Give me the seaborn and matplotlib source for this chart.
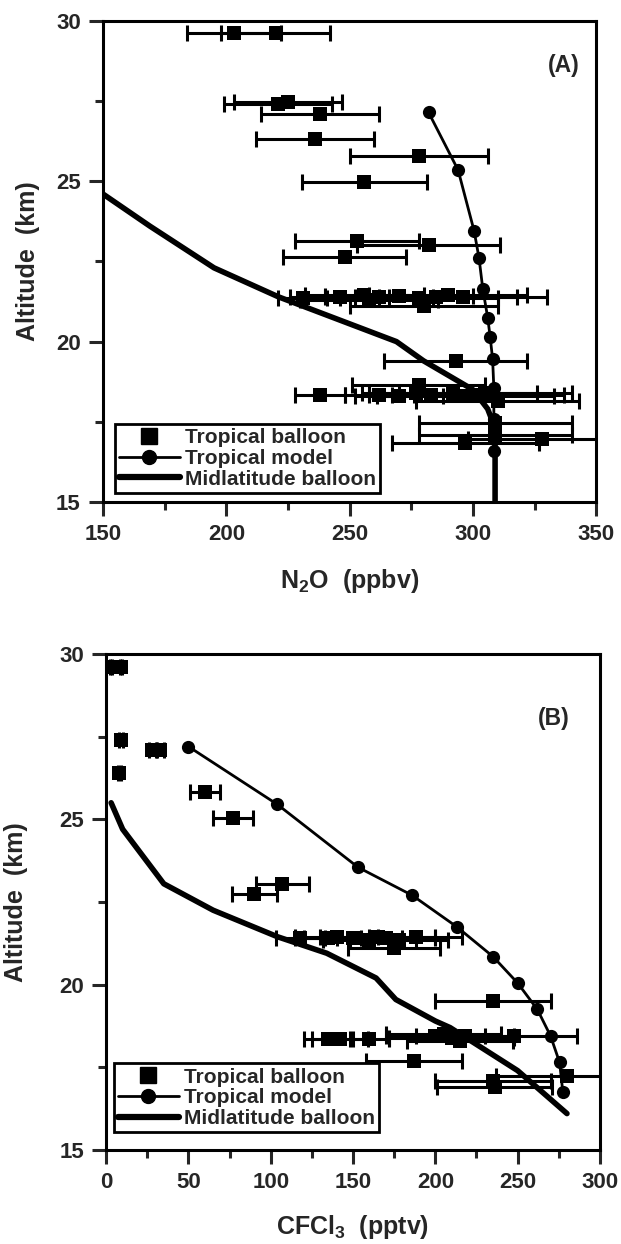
import numpy as np
import pandas as pd
import seaborn as sns
import matplotlib.pyplot as plt
from matplotlib.lines import Line2D

sns.set_theme(style='ticks')
plt.rcParams['font.family'] = ['Liberation Sans', 'DejaVu Sans']
plt.rcParams['font.weight'] = 'bold'
plt.rcParams['mathtext.fontset'] = 'custom'
plt.rcParams['mathtext.rm'] = 'Liberation Sans:bold'
plt.rcParams['mathtext.bf'] = 'Liberation Sans:bold'
plt.rcParams['mathtext.it'] = 'Liberation Sans:bold'

# ---- panel A : N2O ----
a_bal_x = [203, 220, 221, 225, 238, 236, 278, 256, 253, 282, 248,
           231, 246, 256, 262, 270, 278, 285, 290, 296, 258, 280,
           293, 278, 238, 262, 270, 277, 283, 292, 297, 302, 305, 310,
           309, 309, 297, 328]
a_bal_y = [29.62, 29.62, 27.40, 27.47, 27.10, 26.33, 25.78, 24.98, 23.15, 23.00, 22.65,
           21.35, 21.40, 21.45, 21.38, 21.42, 21.35, 21.40, 21.45, 21.38, 21.30, 21.10,
           19.40, 18.65, 18.35, 18.35, 18.30, 18.40, 18.35, 18.40, 18.30, 18.35, 18.40, 18.15,
           17.45, 17.10, 16.85, 16.95]
a_bal_err = [19, 22, 22, 22, 24, 24, 28, 25.5, 25, 29, 25,
             10, 20, 24, 22, 30, 32, 33, 32, 34, 28, 30,
             29, 27, 10, 14, 18, 22, 25, 34, 36, 35, 35, 33,
             31, 31, 30, 30]
a_mod_x = [282, 294, 300.5, 302.5, 304, 306, 307, 308, 308.5, 308.5, 308.5]
a_mod_y = [27.15, 25.35, 23.45, 22.6, 21.65, 20.75, 20.15, 19.45, 18.55, 17.6, 16.6]
a_mid_x = [150, 169, 195, 221, 269, 280, 300, 306, 309, 309]
a_mid_y = [24.6, 23.6, 22.3, 21.4, 20.0, 19.4, 18.5, 17.9, 17.3, 15.0]

# ---- panel B : CFCl3 ----
b_bal_x = [3, 9, 9, 28, 33, 8, 60, 77, 107, 90,
           118, 135, 140, 150, 160, 165, 170, 178, 188, 175,
           235, 135, 142, 160, 200, 205, 210, 215, 218, 248,
           187, 280, 235, 236]
b_bal_y = [29.6, 29.6, 27.4, 27.1, 27.1, 26.4, 25.83, 25.05, 23.05, 22.75,
           21.4, 21.4, 21.45, 21.4, 21.35, 21.45, 21.4, 21.35, 21.45, 21.1,
           19.5, 18.35, 18.35, 18.35, 18.45, 18.5, 18.4, 18.3, 18.45, 18.45,
           17.7, 17.25, 17.1, 16.9]
b_bal_err = [0.5, 0.5, 1, 2, 2, 1, 9, 12, 16, 13.5,
             15, 20, 25, 30, 28, 35, 30, 30, 28, 28,
             35, 15, 17, 12, 30, 35, 38, 32, 30, 38,
             29, 43, 35, 35]
b_mod_x = [50, 104, 153, 186, 213, 235, 250, 262, 270, 275.5, 277.5]
b_mod_y = [27.2, 25.45, 23.55, 22.7, 21.75, 20.85, 20.05, 19.25, 18.45, 17.65, 16.75]
b_mid_x = [3, 10, 35, 65, 104, 134, 164, 176, 200, 209, 250, 280]
b_mid_y = [25.5, 24.7, 23.05, 22.25, 21.45, 20.95, 20.2, 19.55, 18.9, 18.7, 17.4, 16.1]

fig = plt.figure(figsize=(6.21, 12.44), dpi=100)
axA = fig.add_axes([0.166, 0.5965, 0.794, 0.3867])
axB = fig.add_axes([0.171, 0.0756, 0.795, 0.3987])


def draw(ax, bx, by, berr, mx, my, lx, ly):
    ax.errorbar(bx, by, xerr=berr, fmt='none', ecolor='black',
                elinewidth=2.2, capsize=6, capthick=2.2, zorder=2)
    sns.scatterplot(x=bx, y=by, marker='s', s=95, color='black',
                    linewidth=0, ax=ax, zorder=3)
    sns.lineplot(x=lx, y=ly, sort=False, estimator=None, color='black',
                 lw=4, ax=ax, zorder=4)
    sns.lineplot(x=mx, y=my, sort=False, estimator=None, color='black',
                 lw=2, marker='o', markersize=9.5, markeredgewidth=0, ax=ax, zorder=4)
    handles = [Line2D([], [], color='black', marker='s', markersize=11, lw=0),
               Line2D([], [], color='black', marker='o', markersize=10, lw=2),
               Line2D([], [], color='black', lw=4.5)]
    return handles


def style(ax, xmin, xmax, step):
    ax.set_xlim(xmin, xmax)
    ax.set_ylim(15, 30)
    ax.set_xticks(np.arange(xmin, xmax + 1, step))
    ax.set_xticks(np.arange(xmin + step / 2, xmax, step), minor=True)
    ax.set_yticks([15, 20, 25, 30])
    ax.set_yticks([17.5, 22.5, 27.5], minor=True)
    ax.tick_params(which='major', direction='out', length=10, width=2.2,
                   labelsize=16, pad=6)
    ax.tick_params(which='minor', direction='out', length=6, width=2.2)
    for sp in ax.spines.values():
        sp.set_linewidth(2.2)
        sp.set_color('black')
    for lab in ax.get_xticklabels() + ax.get_yticklabels():
        lab.set_fontweight('bold')


def legend(ax, h, anchor):
    leg = ax.legend(h, ['Tropical balloon', 'Tropical model', 'Midlatitude balloon'],
                    loc='lower left', bbox_to_anchor=anchor,
                    borderaxespad=0, frameon=True, fancybox=False, framealpha=1,
                    edgecolor='black', fontsize=15, handlelength=2.9,
                    labelspacing=0.08, borderpad=0.2, handletextpad=0.25)
    leg.get_frame().set_linewidth(2)


h = draw(axA, a_bal_x, a_bal_y, a_bal_err, a_mod_x, a_mod_y, a_mid_x, a_mid_y)
style(axA, 150, 350, 50)
axA.set_xlabel('N$_2$O  (ppbv)', fontsize=18, fontweight='bold', labelpad=16)
axA.set_ylabel('Altitude  (km)', fontsize=18, fontweight='bold')
axA.yaxis.set_label_coords(-0.128, 0.5)
axA.text(337, 28.6, '(A)', fontsize=16.5, fontweight='bold', ha='center', va='center')
legend(axA, h, (0.024, 0.019))

h = draw(axB, b_bal_x, b_bal_y, b_bal_err, b_mod_x, b_mod_y, b_mid_x, b_mid_y)
style(axB, 0, 300, 50)
axB.set_xlabel('CFCl$_3$  (pptv)', fontsize=18, fontweight='bold', labelpad=14)
axB.set_ylabel('Altitude  (km)', fontsize=18, fontweight='bold')
axB.yaxis.set_label_coords(-0.158, 0.5)
axB.text(272, 28.05, '(B)', fontsize=16.5, fontweight='bold', ha='center', va='center')
legend(axB, h, (0.016, 0.036))

fig.savefig('out.png', dpi=100)
